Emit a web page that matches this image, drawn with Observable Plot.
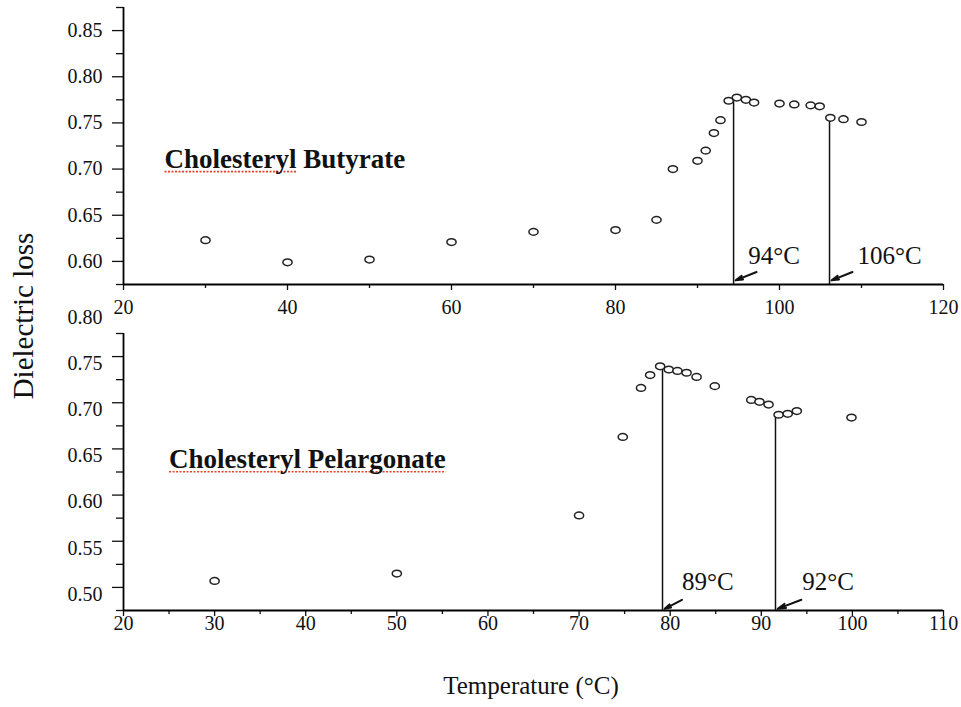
<!DOCTYPE html>
<html>
<head>
<meta charset="utf-8">
<script src="https://cdn.jsdelivr.net/npm/d3@7"></script>
<script src="https://cdn.jsdelivr.net/npm/@observablehq/plot@0.6"></script>
<style>
  html, body { margin: 0; padding: 0; background: #fff; }
  #wrap { position: relative; width: 961px; height: 707px; font-family: "Liberation Serif", serif; color: #111; }
  #top, #bot { position: absolute; left: 0; }
  #top { top: 0; }
  #bot { top: 300px; }
  #ylab { position: absolute; left: 23px; top: 316px; transform: translate(-50%, -50%) rotate(-90deg); font-size: 29px; white-space: nowrap; }
  #xlab { position: absolute; left: 531px; top: 686px; transform: translate(-50%, -50%); font-size: 25px; white-space: nowrap; }
  svg { overflow: visible; background: transparent !important; }
  svg text { font-family: "Liberation Serif", serif; }
</style>
</head>
<body>
<div id="wrap">
  <div id="top"></div>
  <div id="bot"></div>
  <div id="ylab">Dielectric loss</div>
  <div id="xlab">Temperature (°C)</div>
</div>
<script>
// ---------- Data: Cholesteryl Butyrate (top panel) ----------
const butyrateT = [30, 40, 50, 60, 70, 80, 85, 87, 90, 91, 92, 92.8, 93.8, 94.8, 95.9, 96.9, 100, 101.8, 103.8, 104.9, 106.2, 107.8, 110];
const butyrateV = [0.623, 0.599, 0.602, 0.621, 0.632, 0.634, 0.645, 0.700, 0.709, 0.720, 0.739, 0.753, 0.774, 0.7775, 0.775, 0.772, 0.771, 0.770, 0.769, 0.768, 0.7555, 0.754, 0.751];
const butyrateTransT = [94.4, 106.1];
const butyrateTransPeak = [0.774, 0.7555];
const butyrateTransLabel = ["94°C", "106°C"];
const butyrateLabelT = [96.2, 109.5];
const butyrateLabelV = 0.597;
const butyrateArrowFrom = [[97.2, 0.5885], [108.9, 0.5885]];
const butyrateArrowTo = [[94.65, 0.5795], [106.35, 0.5795]];

// ---------- Data: Cholesteryl Pelargonate (bottom panel) ----------
const pelargT = [30, 50, 70, 74.8, 76.8, 77.8, 78.9, 79.85, 80.8, 81.8, 82.9, 84.9, 88.9, 89.8, 90.8, 91.9, 92.9, 93.9, 99.9];
const pelargV = [0.507, 0.515, 0.578, 0.663, 0.716, 0.730, 0.7395, 0.736, 0.7345, 0.7325, 0.728, 0.718, 0.703, 0.701, 0.698, 0.687, 0.688, 0.691, 0.684];
const pelargTransT = [79.16, 91.56];
const pelargTransPeak = [0.7385, 0.686];
const pelargTransLabel = ["89°C", "92°C"];
const pelargLabelT = [81.3, 94.5];
const pelargLabelV = 0.4977;
const pelargArrowFrom = [[81.3, 0.4866], [94.4, 0.4866]];
const pelargArrowTo = [[79.4, 0.4768], [91.8, 0.4768]];

// ---------- Axes ----------
const topXDomain = [20, 120];
const topYDomain = [0.575, 0.875];
const topXMajor = [20, 40, 60, 80, 100, 120];
const topXMinor = [30, 50, 70, 90, 110];
const topYMajor = [0.60, 0.65, 0.70, 0.75, 0.80, 0.85];
const topYMinor = [0.575, 0.625, 0.675, 0.725, 0.775, 0.825, 0.875];

const botXDomain = [20, 110];
const botYDomain = [0.475, 0.775];
const botXMajor = [20, 30, 40, 50, 60, 70, 80, 90, 100, 110];
const botXMinor = [25, 35, 45, 55, 65, 75, 85, 95, 105];
const botYMajor = [0.50, 0.55, 0.60, 0.65, 0.70, 0.75];
const botYLabels = [0.50, 0.55, 0.60, 0.65, 0.70, 0.75, 0.80];
const botYMinor = [0.475, 0.525, 0.575, 0.625, 0.675, 0.725, 0.775];

const titles = ["Cholesteryl Butyrate", "Cholesteryl Pelargonate"];
const underlinedChars = [11, 23]; // characters carrying the red spell-check underline
const titleT = [25, 25];
const titleV = [0.701, 0.629];

// ellipse symbol for open markers
const ellipse = {
  draw(ctx, size) {
    const r = Math.sqrt(size / Math.PI);
    const rx = r * 1.12, ry = r * 0.82, k = 0.5523;
    ctx.moveTo(rx, 0);
    ctx.bezierCurveTo(rx, ry * k, rx * k, ry, 0, ry);
    ctx.bezierCurveTo(-rx * k, ry, -rx, ry * k, -rx, 0);
    ctx.bezierCurveTo(-rx, -ry * k, -rx * k, -ry, 0, -ry);
    ctx.bezierCurveTo(rx * k, -ry, rx, -ry * k, rx, 0);
    ctx.closePath();
  }
};

const serif = "Liberation Serif, serif";

function panel(opts) {
  const pts = opts.T.map((t, i) => ({t, v: opts.V[i]}));
  const trans = opts.transT.map((t, i) => ({t, peak: opts.transPeak[i], label: opts.transLabel[i], lt: opts.labelT[i], lv: opts.labelV,
    x1: opts.arrowFrom[i][0], y1: opts.arrowFrom[i][1], x2: opts.arrowTo[i][0], y2: opts.arrowTo[i][1]}));
  const y0 = opts.yDomain[0], x0 = opts.xDomain[0];
  return Plot.plot({
    width: 961,
    height: opts.height,
    marginLeft: 123,
    marginRight: 18,
    marginTop: opts.marginTop,
    marginBottom: opts.marginBottom,
    style: {fontFamily: serif, fontSize: "20px", color: "#111", background: "transparent", overflow: "visible"},
    x: {domain: opts.xDomain, axis: null},
    y: {domain: opts.yDomain, axis: null},
    marks: [
      Plot.axisX({ticks: opts.xMajor, tickSize: 0, tickPadding: opts.xLabelPad, lineAnchor: "middle", tickFormat: d => d, label: null, fill: "#111", fontFamily: serif, fontVariant: "normal"}),
      Plot.axisX({ticks: opts.xMajor, tickSize: 6, text: null, label: null, strokeWidth: 1.3}),
      Plot.axisX({ticks: opts.xMinor, tickSize: 4, text: null, label: null, strokeWidth: 1.3}),
      Plot.axisY({ticks: opts.yLabels, tickSize: 0, tickPadding: 21, dy: opts.yLabelDy, tickFormat: ".2f", label: null, fill: "#111", fontFamily: serif, fontVariant: "normal"}),
      Plot.axisY({ticks: opts.yMajor, tickSize: 11, text: null, label: null, strokeWidth: 1.3}),
      Plot.axisY({ticks: opts.yMinor, tickSize: 7, text: null, label: null, strokeWidth: 1.3}),
      Plot.ruleY([y0], {stroke: "#000", strokeWidth: 1.8}),
      Plot.ruleX([x0], {stroke: "#000", strokeWidth: 1.8}),
      Plot.ruleX(trans, {x: "t", y1: y0, y2: "peak", stroke: "#111", strokeWidth: 1.5}),
      Plot.arrow(trans, {x1: "x1", y1: "y1", x2: "x2", y2: "y2", stroke: "#111", strokeWidth: 2, headLength: 8, headAngle: 30}),
      Plot.text(trans, {x: "lt", y: "lv", text: "label", textAnchor: "start", lineAnchor: "bottom", fontSize: 25, fill: "#111", fontFamily: serif}),
      Plot.text([opts.title], {x: opts.titleT, y: opts.titleV, text: d => d, textAnchor: "start", lineAnchor: "bottom", fontSize: 27, fontWeight: "bold", fill: "#111", fontFamily: serif, className: "ptitle"}),
      Plot.dot(pts, {x: "t", y: "v", symbol: ellipse, r: 4.1, stroke: "#222", strokeWidth: 1.5, fill: "white"})
    ]
  });
}

const topPlot = panel({
  T: butyrateT, V: butyrateV,
  transT: butyrateTransT, transPeak: butyrateTransPeak, transLabel: butyrateTransLabel,
  labelT: butyrateLabelT, labelV: butyrateLabelV, arrowFrom: butyrateArrowFrom, arrowTo: butyrateArrowTo,
  xDomain: topXDomain, yDomain: topYDomain, xMajor: topXMajor, xMinor: topXMinor,
  yMajor: topYMajor, yMinor: topYMinor, yLabels: topYMajor, yLabelDy: 0,
  height: 320, marginTop: 7, marginBottom: 36, xLabelPad: 23,
  title: titles[0], titleT: titleT[0], titleV: titleV[0]
});
const botPlot = panel({
  T: pelargT, V: pelargV,
  transT: pelargTransT, transPeak: pelargTransPeak, transLabel: pelargTransLabel,
  labelT: pelargLabelT, labelV: pelargLabelV, arrowFrom: pelargArrowFrom, arrowTo: pelargArrowTo,
  xDomain: botXDomain, yDomain: botYDomain, xMajor: botXMajor, xMinor: botXMinor,
  yMajor: botYMajor, yMinor: botYMinor, yLabels: botYLabels, yLabelDy: 7,
  height: 407, marginTop: 33, marginBottom: 97, xLabelPad: 13,
  title: titles[1], titleT: titleT[1], titleV: titleV[1]
});
document.getElementById("top").appendChild(topPlot);
document.getElementById("bot").appendChild(botPlot);

// red dotted spell-check underline, measured from the rendered title text
[topPlot, botPlot].forEach((svg, k) => {
  const t = svg.querySelector(".ptitle text");
  if (!t) return;
  const bb = t.getBBox();
  let w;
  try { w = t.getSubStringLength(0, underlinedChars[k]); } catch (e) { w = bb.width; }
  const line = document.createElementNS("http://www.w3.org/2000/svg", "line");
  const yy = bb.y + bb.height - 2.5;
  line.setAttribute("x1", bb.x);
  line.setAttribute("x2", bb.x + w);
  line.setAttribute("y1", yy);
  line.setAttribute("y2", yy);
  line.setAttribute("stroke", "#e8402a");
  line.setAttribute("stroke-width", "1.6");
  line.setAttribute("stroke-dasharray", "2 1.5");
  const tr = t.getAttribute("transform");
  if (tr) line.setAttribute("transform", tr);
  t.parentNode.insertBefore(line, t);
});
</script>
</body>
</html>
